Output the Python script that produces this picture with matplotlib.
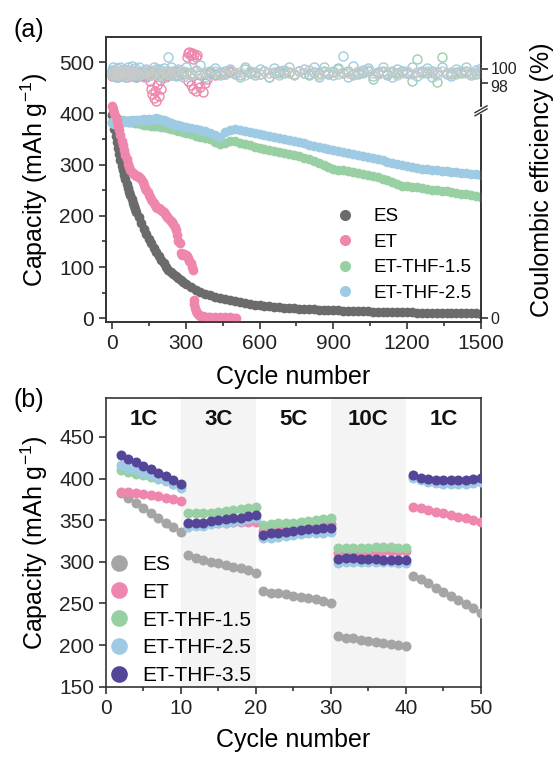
import numpy as np
import matplotlib
matplotlib.use("Agg")
import matplotlib.pyplot as plt
import matplotlib.transforms as mtransforms
from matplotlib.lines import Line2D

# ---------------- panel (a): long-term cycling ----------------
cycles = np.r_[np.arange(0, 100, 5), np.arange(100, 300, 10), np.arange(300, 1501, 20)]

cap_es = [396, 382, 369, 356, 344, 332, 320, 309, 298, 289, 280, 271, 263, 255, 247, 240, 233, 226, 219, 213,
          207, 197, 186, 175, 165, 155, 146, 137, 129, 121, 114, 107, 100, 95, 91, 86.5, 82, 78, 74.5, 71,
          67.5, 61, 55.5, 50.5, 47.5, 45, 42, 39.5, 37, 35, 33, 31, 29.5, 28, 26.5, 25.5, 24.5, 23.5, 22.5, 21.5,
          21, 20, 19.5, 19, 18.5, 18, 17.5, 17, 16.6, 16.2, 15.8, 15.4, 15, 14.7, 14.4, 14.1, 13.8, 13.5, 13.2, 13,
          12.8, 12.5, 12.3, 12.1, 11.9, 11.7, 11.5, 11.3, 11.1, 11, 10.8, 10.6, 10.5, 10.3, 10.2, 10, 9.9, 9.7,
          9.6, 9.4, 9.3]
cap_thf15 = [383, 385, 386, 387, 386, 388, 387, 386, 387, 386, 385, 386, 385, 384, 385, 384, 383, 384, 383, 382,
             382, 381, 380, 378, 377, 378, 376, 375, 376, 375, 374, 373, 374, 372, 370, 369, 368, 366, 365, 364,
             362, 359, 356, 353, 351, 349, 345, 340, 343, 347, 346, 343, 340, 338, 335, 333, 331, 329, 327, 325,
             322, 320, 318, 316, 313, 310, 307, 303, 300, 296, 292, 290, 289, 287, 285, 284, 282, 280, 278, 275,
             272, 269, 266, 262, 259, 258, 257, 256, 254, 252, 251, 250, 249, 248, 246, 245, 243, 242, 240, 238,
             237]
cap_thf25 = [381, 383, 380, 382, 384, 383, 382, 384, 385, 384, 383, 385, 386, 385, 384, 386, 387, 386, 385, 386,
             387, 388, 387, 389, 388, 389, 388, 389, 390, 389, 388, 387, 386, 384, 382, 380, 378, 377, 375, 374,
             373, 371, 369, 367, 365, 362, 358, 354, 363, 368, 369, 367, 365, 363, 361, 360, 358, 356, 354, 352,
             350, 348, 347, 345, 342, 339, 336, 334, 332, 330, 328, 326, 324, 322, 320, 318, 316, 314, 313, 311,
             309, 306, 303, 301, 299, 298, 296, 294, 292, 291, 290, 289, 288, 287, 286, 285, 284, 283, 282, 281,
             279]

et_cycles = [0, 5, 10, 15, 20, 25, 30, 35, 40, 45, 50, 55, 60, 65, 70, 75, 80, 85, 90, 95,
             100, 105, 110, 115, 120, 125, 130, 135, 140, 145, 150, 155, 160, 165, 170, 175, 180, 185, 190, 195,
             200, 205, 210, 215, 220, 225, 230, 235, 240, 245, 250, 255, 260, 265, 270, 275, 280, 285, 290, 295,
             300, 305, 310, 315, 320, 325, 330, 332, 335, 338, 342, 346, 350, 355, 360, 370, 380, 390, 400, 420,
             440, 460, 480, 500, 505]
cap_et = [415, 408, 400, 392, 385, 376, 367, 357, 347, 338, 329, 319, 310, 302, 295, 289, 285, 283, 281, 280,
          278, 277, 276, 274, 271, 266, 260, 255, 250, 246, 241, 237, 233, 229, 225, 221, 218, 216, 215, 214,
          212, 210, 207, 204, 201, 198, 195, 192, 189, 187, 184, 179, 172, 162, 150, 146, 128, 124, 126, 125,
          123, 121, 118, 112, 108, 100, 94, 35, 28, 20, 15, 11, 8, 6, 5, 3.5, 3, 2.5, 2.2, 2,
          1.8, 1.7, 1.6, 1.5, 1.5]

# coulombic efficiency (%)
ce_es = [99.2, 99.6, 99.3, 99.8, 99.4, 99.1, 99.7, 99.5, 99.2, 99.9, 99.4, 99.6, 99.0, 99.5, 99.8, 99.3, 99.6, 99.2, 99.7, 99.4,
         99.5, 99.1, 99.8, 99.3, 99.6, 99.9, 99.2, 99.5, 99.7, 99.0, 99.4, 99.8, 99.3, 99.6, 99.1, 99.5, 99.9, 99.4, 99.2, 99.7,
         99.5, 99.3, 99.8, 99.4, 99.6, 99.1, 99.7, 99.5, 99.3, 99.9, 99.4, 99.6, 99.2, 99.8, 99.5, 99.3, 99.7, 99.4, 99.6, 99.2,
         99.8, 99.5, 99.3, 99.7, 99.4, 99.9, 99.5, 99.2, 99.6, 99.4, 99.8, 99.3, 99.6, 99.5, 99.2, 99.7, 99.4, 99.9, 99.5, 99.3,
         99.6, 99.4, 99.8, 99.2, 99.5, 99.7, 99.3, 99.6, 99.4, 99.8, 99.5, 99.2, 99.7, 99.4, 99.6, 99.3, 99.8, 99.5, 99.4, 99.6,
         99.5]
ce_thf15 = [99.4, 99.7, 99.2, 99.6, 99.5, 98.9, 99.8, 99.3, 99.6, 99.4, 99.7, 99.1, 99.5, 99.8, 99.3, 99.6, 99.0, 99.5, 99.7, 99.4,
            98.9, 99.6, 99.3, 99.8, 99.5, 99.1, 99.7, 99.4, 99.6, 100.1, 99.3, 99.5, 98.9, 99.7, 99.4, 99.6, 99.2, 99.8, 99.5, 99.3,
            99.6, 99.4, 99.8, 99.1, 99.5, 99.7, 99.3, 99.6, 99.4, 99.8, 99.5, 99.2, 100.1, 99.4, 99.6, 99.3, 99.8, 98.9, 99.5, 99.7,
            99.4, 99.6, 99.3, 99.8, 99.5, 99.2, 99.6, 99.4, 99.8, 99.3, 99.6, 100.2, 99.4, 99.7, 99.3, 99.5, 99.6, 99.8, 98.6, 99.4,
            99.7, 99.3, 99.6, 99.4, 99.8, 99.5, 98.3, 101.5, 99.6, 99.4, 99.7, 98.1, 101.8, 99.5, 99.3, 99.6, 99.4, 99.8, 99.5, 99.3,
            99.6]
ce_thf25 = [99.9, 100.3, 99.1, 98.9, 100.2, 99.6, 99.0, 100.4, 99.3, 99.8, 100.1, 98.8, 99.7, 100.3, 99.2, 99.9, 100.5, 99.1, 99.6, 100.2,
            99.0, 100.3, 99.5, 98.9, 100.1, 99.7, 99.2, 100.4, 100.0, 99.4, 98.9, 100.2, 99.6, 101.9, 100.4, 99.8, 99.0, 100.1, 99.5, 98.8,
            100.3, 99.2, 99.9, 100.6, 98.9, 99.6, 100.2, 99.1, 99.8, 100.0, 99.3, 98.9, 100.3, 99.6, 99.2, 100.1, 99.7, 98.8, 100.2, 99.4,
            99.9, 100.4, 99.1, 99.7, 100.0, 99.3, 100.3, 98.9, 100.3, 99.5, 99.1, 100.1, 102.0, 98.8, 100.5, 99.3, 99.9, 100.2, 99.0, 99.6,
            100.3, 99.2, 98.9, 100.1, 99.7, 99.4, 100.4, 99.0, 99.8, 100.2, 98.9, 99.6, 100.3, 99.3, 99.0, 100.1, 99.7, 100.4, 99.2, 99.9,
            100.2]
ce_et_cycles = [0, 10, 20, 30, 40, 50, 60, 70, 80, 90, 100, 110, 120, 130, 140, 150,
                155, 160, 165, 170, 175, 180, 185, 190, 195, 200, 205,
                210, 220, 230, 240, 250, 260, 270, 280, 290, 300,
                305, 310, 315, 320, 325, 330, 335, 340, 345,
                310, 320, 330, 340, 350, 360, 370, 380, 385,
                400, 420, 440, 460, 480, 500]
ce_et = [99.0, 99.2, 98.9, 99.1, 99.0, 99.3, 98.9, 99.1, 99.2, 99.0, 98.9, 99.1, 99.0, 99.2, 98.8, 99.1,
         98.2, 97.1, 96.3, 95.7, 96.8, 95.3, 97.6, 96.1, 98.4, 97.0, 98.9,
         99.3, 99.0, 99.4, 99.1, 99.5, 99.2, 99.6, 99.3, 99.5, 99.4,
         101.9, 102.4, 102.6, 102.1, 102.5, 101.6, 102.3, 101.8, 102.2,
         98.3, 97.6, 97.1, 96.7, 98.0, 97.4, 96.6, 97.9, 98.5,
         99.4, 99.2, 99.5, 99.3, 99.6, 99.4]
ce_ticks = [0, 98, 100]

# ---------------- panel (b): rate capability ----------------
rate_cycles = np.arange(2, 51)
rate_labels = ["1C", "3C", "5C", "10C", "1C"]
rate_edges = [0, 10, 20, 30, 40, 50]

rate_es = [383, 377, 371, 365, 359, 353, 347, 342, 336,
           308, 305, 302, 300, 298, 296, 294, 292, 290, 287,
           265, 263, 262, 261, 259, 258, 256, 255, 253, 251,
           211, 209, 208, 206, 205, 204, 203, 201, 200, 199,
           283, 279, 274, 269, 264, 259, 254, 249, 244, 238]
rate_et = [384, 384, 383, 381, 380, 379, 377, 375, 373,
           345, 345, 346, 346, 347, 347, 348, 348, 348, 348,
           337, 338, 338, 339, 340, 341, 342, 343, 344, 345,
           311, 311, 312, 312, 312, 312, 313, 313, 313, 313,
           366, 364, 362, 360, 358, 356, 354, 352, 350, 348]
rate_thf15 = [410, 408, 406, 404, 402, 400, 397, 394, 391,
              358, 358, 359, 359, 360, 361, 362, 363, 364, 366,
              344, 345, 346, 347, 347, 348, 349, 350, 351, 352,
              316, 316, 317, 317, 317, 318, 318, 318, 317, 317,
              402, 400, 398, 397, 396, 396, 395, 395, 396, 397]
rate_thf25 = [416, 413, 410, 407, 404, 401, 398, 394, 388,
              342, 343, 343, 345, 346, 347, 348, 349, 351, 352,
              328, 329, 330, 331, 332, 333, 334, 334, 335, 336,
              299, 300, 300, 300, 300, 300, 300, 300, 299, 299,
              401, 398, 396, 395, 394, 394, 394, 394, 395, 396]
rate_thf35 = [428, 424, 420, 415, 411, 407, 403, 398, 394,
              346, 347, 347, 349, 350, 351, 352, 353, 355, 356,
              332, 334, 335, 336, 337, 338, 339, 339, 340, 341,
              303, 304, 304, 303, 303, 303, 302, 302, 302, 302,
              404, 401, 399, 398, 398, 398, 398, 398, 399, 401]

C_ES_A = "#6b6b6b"
C_ES_B = "#a5a5a5"
C_ET = "#ef86ad"
C_15 = "#98d0a4"
C_25 = "#9ecbe3"
C_35 = "#544599"
C_CE_ES = "#c9c9c9"
C_AX = "#333333"

plt.rcParams["font.family"] = ["Liberation Sans", "DejaVu Sans"]
plt.rcParams["mathtext.default"] = "regular"

fig = plt.figure(figsize=(5.54, 7.6), dpi=100)


def style_axes(ax):
    for sp in ax.spines.values():
        sp.set_linewidth(1.2)
        sp.set_color(C_AX)
    ax.tick_params(which="both", direction="out", color=C_AX, width=1.2, labelsize=15,
                   labelcolor="#222222")
    ax.tick_params(which="major", length=5)
    ax.tick_params(which="minor", length=3)


# ---- (a) ----
ax = fig.add_axes([0.1913, 0.5758, 0.6769, 0.3755])
ms_a = 7
ax.plot(cycles, cap_es, "o", ms=ms_a, mec="none", color=C_ES_A, zorder=2)
ax.plot(cycles, cap_thf15, "o", ms=ms_a, mec="none", color=C_15, zorder=3)
ax.plot(cycles, cap_thf25, "o", ms=ms_a, mec="none", color=C_25, zorder=4)
ax.plot(et_cycles, cap_et, "o", ms=ms_a, mec="none", color=C_ET, zorder=5)
ax.set_xlim(-24, 1500)
ax.set_ylim(-8, 549)
ax.set_xticks(np.arange(0, 1501, 300))
ax.set_xticks(np.arange(150, 1500, 300), minor=True)
ax.set_yticks(np.arange(0, 501, 100))
ax.set_yticks(np.arange(50, 500, 100), minor=True)
style_axes(ax)
ax.tick_params(right=False, which="both")
ax.set_ylabel("Capacity (mAh g$^{-1}$)", fontsize=18)
ax.yaxis.set_label_coords(-0.15, 0.5)
ax.set_xlabel("Cycle number", fontsize=18)
ax.xaxis.set_label_coords(0.5, -0.15)

# broken right axis for coulombic efficiency
CE_TOP, CE_STEP, CE_LOW = 485.9, 13.1, 354.9


def ce_fwd(v):
    v = np.asarray(v, dtype=float)
    return np.where(v >= 90, CE_TOP + (v - 100) * CE_STEP, v * CE_LOW / 90)


def ce_inv(t):
    t = np.asarray(t, dtype=float)
    return np.where(t >= CE_LOW, 100 + (t - CE_TOP) / CE_STEP, t * 90 / CE_LOW)


ax2 = ax.twinx()
ax2.set_yscale("function", functions=(ce_fwd, ce_inv))
ax2.set_ylim(float(ce_inv(-8)), float(ce_inv(549)))
ce_kw = dict(ls="none", marker="o", ms=6.5, mfc="none", mew=1.0)
ax2.plot(ce_et_cycles, ce_et, mec=C_ET, **ce_kw)
ax2.plot(cycles, ce_thf15, mec=C_15, **ce_kw)
ax2.plot(cycles, ce_thf25, mec=C_25, **ce_kw)
ax2.plot(cycles, ce_es, mec=C_CE_ES, **ce_kw)
ax2.set_yticks(ce_ticks, labels=[str(t) for t in ce_ticks])
ax2.set_yticks([], minor=True)
style_axes(ax2)
ax2.tick_params(labelsize=11.5, pad=2)
# nudge the crowded 98 / 100 labels apart a little
for lab, shift in zip(ax2.get_yticklabels(), (0, -2.2, 1.2)):
    lab.set_transform(lab.get_transform()
                      + mtransforms.ScaledTranslation(0, shift / 72, fig.dpi_scale_trans))
ax2.set_ylabel("Coulombic efficiency (%)", fontsize=18)
ax2.yaxis.set_label_coords(1.13, 0.5)

# break marks on the right spine
yb = (405 + 8) / (549 + 8)
dx, dy, gap = 0.016, 0.012, 0.011
ax2.plot([1, 1], [yb - gap / 2, yb + gap / 2], transform=ax2.transAxes, color="white",
         lw=3, clip_on=False, zorder=10)
for off in (-gap / 2, gap / 2):
    ax2.plot([1 - dx, 1 + dx], [yb + off - dy, yb + off + dy], transform=ax2.transAxes,
             color=C_AX, lw=1.0, clip_on=False, zorder=11)

handles_a = [Line2D([], [], ls="none", marker="o", ms=8, mec="none", color=c)
             for c in (C_ES_A, C_ET, C_15, C_25)]
ax.legend(handles_a, ["ES", "ET", "ET-THF-1.5", "ET-THF-2.5"], loc="upper left",
          bbox_to_anchor=(336 / 554, 1 - 208 / 760), bbox_transform=fig.transFigure,
          frameon=False, fontsize=13.5, handlelength=1.0, handletextpad=1.0,
          labelspacing=0.45, borderpad=0, borderaxespad=0)

# ---- (b) ----
bx = fig.add_axes([0.1913, 0.0964, 0.6769, 0.3803])
for i, lab in enumerate(rate_labels):
    lo, hi = rate_edges[i], rate_edges[i + 1]
    if i % 2 == 1:
        bx.axvspan(lo, hi, color="#f4f4f4", lw=0, zorder=0)
    bx.text((lo + hi) / 2, 471, lab, ha="center", va="center", fontsize=16,
            fontweight="bold", color="#111111")

ms_b = 7.2
series_b = [(rate_es, C_ES_B, "ES"), (rate_et, C_ET, "ET"), (rate_thf15, C_15, "ET-THF-1.5"),
            (rate_thf25, C_25, "ET-THF-2.5"), (rate_thf35, C_35, "ET-THF-3.5")]
for vals, col, lab in series_b:
    bx.plot(rate_cycles, vals, "o", ms=ms_b, mec="none", color=col, zorder=3)
bx.set_xlim(0, 50)
bx.set_ylim(150, 497)
bx.set_xticks(np.arange(0, 51, 10))
bx.set_xticks(np.arange(5, 50, 10), minor=True)
bx.set_yticks(np.arange(150, 451, 50))
style_axes(bx)
bx.set_ylabel("Capacity (mAh g$^{-1}$)", fontsize=18)
bx.yaxis.set_label_coords(-0.15, 0.5)
bx.set_xlabel("Cycle number", fontsize=18)
bx.xaxis.set_label_coords(0.5, -0.143)

handles_b = [Line2D([], [], ls="none", marker="o", ms=12, mec="none", color=c)
             for _, c, _ in series_b]
bx.legend(handles_b, [s[2] for s in series_b], loc="upper left",
          bbox_to_anchor=(109 / 554, 1 - 555 / 760), bbox_transform=fig.transFigure,
          frameon=False, fontsize=15, handlelength=1.0, handletextpad=0.6,
          labelspacing=0.42, borderpad=0, borderaxespad=0)

fig.text(29 / 554, 1 - 30 / 760, "(a)", fontsize=18, ha="center", va="center")
fig.text(29 / 554, 1 - 400 / 760, "(b)", fontsize=18, ha="center", va="center")

fig.savefig("out.png", dpi=100)
